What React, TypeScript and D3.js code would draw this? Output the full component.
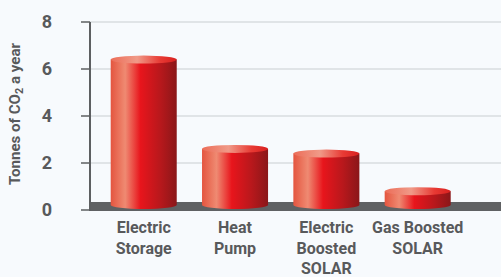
import { scaleBand, scaleLinear } from "d3";

const width = 501;
const height = 277;

const categories = ["Electric Storage", "Heat Pump", "Electric Boosted SOLAR", "Gas Boosted SOLAR"];
const labelLines = [["Electric", "Storage"], ["Heat", "Pump"], ["Electric", "Boosted", "SOLAR"], ["Gas Boosted", "SOLAR"]];
const values = [6.4, 2.6, 2.4, 0.8];
const yTicks = [0, 2, 4, 6, 8];

const axisX = 90;
const zeroY = 210;
const topY = 22;
const font = "Roboto, 'Liberation Sans', Arial, sans-serif";
const textColor = "#58595b";

export default function App() {
  const x = scaleBand().domain(categories).range([110.7, 450.7]).paddingInner(0.277).paddingOuter(0);
  const y = scaleLinear().domain([0, 8]).range([zeroY, topY]);
  const bw = x.bandwidth();
  const ry = 4;
  const baseY = zeroY - 5;

  return (
    <svg width={width} height={height} style={{ position: "absolute", left: 0, top: 0 }} fontFamily={font}>
      <defs>
        <linearGradient id="body" x1="0" x2="1" y1="0" y2="0">
          <stop offset="0" stopColor="#e4553f" />
          <stop offset="0.22" stopColor="#ef8a72" />
          <stop offset="0.45" stopColor="#e8151c" />
          <stop offset="0.75" stopColor="#b8181c" />
          <stop offset="1" stopColor="#8a1719" />
        </linearGradient>
        <linearGradient id="cap" x1="0" x2="1" y1="0" y2="0">
          <stop offset="0" stopColor="#ec6d58" />
          <stop offset="0.4" stopColor="#f09a88" />
          <stop offset="0.75" stopColor="#e83a34" />
          <stop offset="1" stopColor="#d8201f" />
        </linearGradient>
      </defs>
      <rect width={width} height={height} fill="#f7fafd" />

      {yTicks.map((t) => (
        <g key={t}>
          {t > 0 && <line x1={axisX} x2={width} y1={y(t)} y2={y(t)} stroke="#d9dcdf" strokeWidth={1.5} />}
          <line x1={axisX - 9} x2={axisX} y1={y(t)} y2={y(t)} stroke="#5d5f61" strokeWidth={1.5} />
          <text x={52} y={y(t)} dy="0.36em" textAnchor="end" fontSize={18} fontWeight="bold" fill={textColor}>
            {t}
          </text>
        </g>
      ))}

      <rect x={axisX} y={zeroY - 8} width={width - axisX} height={9} fill="#5f6163" />
      <line x1={axisX} x2={axisX} y1={topY} y2={zeroY + 1} stroke="#5d5f61" strokeWidth={2} />

      <text
        transform={`translate(20,114) rotate(-90)`}
        textAnchor="middle"
        fontSize={14}
        fontWeight="bold"
        fill={textColor}
        textLength={142}
        lengthAdjust="spacingAndGlyphs"
      >
        Tonnes of CO<tspan fontSize={10} dy={3}>2</tspan>
        <tspan dy={-3}> a year</tspan>
      </text>

      {categories.map((c, i) => {
        const x0 = x(c) ?? 0;
        const top = y(values[i]);
        const cx = x0 + bw / 2;
        return (
          <g key={c}>
            <path
              d={`M${x0},${top} L${x0},${baseY} A${bw / 2},${ry} 0 0 0 ${x0 + bw},${baseY} L${x0 + bw},${top} Z`}
              fill="url(#body)"
            />
            <ellipse cx={cx} cy={top} rx={bw / 2} ry={ry} fill="url(#cap)" />
          </g>
        );
      })}

      {categories.map((c, i) => {
        const cx = (x(c) ?? 0) + bw / 2;
        return (
          <text key={c} x={cx} textAnchor="middle" fontSize={16} fontWeight="bold" fill={textColor}>
            {labelLines[i].map((l, j) => (
              <tspan key={j} x={cx} y={233 + j * 20.5}>
                {l}
              </tspan>
            ))}
          </text>
        );
      })}
    </svg>
  );
}
